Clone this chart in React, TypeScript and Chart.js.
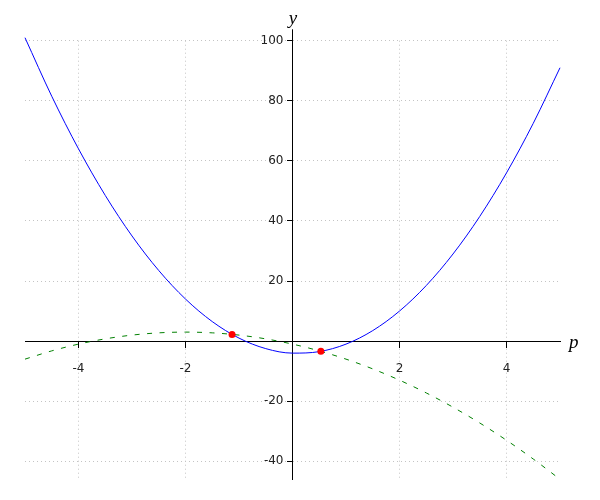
import React, { useEffect, useRef } from "react";
import { Chart, registerables } from "chart.js";

Chart.register(...registerables);

const xValues = [-5, -4.5, -4, -3.5, -3, -2.5, -2, -1.5, -1, -0.5, 0, 0.5, 1, 1.5, 2, 2.5, 3, 3.5, 4, 4.5, 5];
const blueValues = [101, 81.5, 64, 48.5, 35, 23.5, 14, 6.5, 1, -2.5, -4, -3.5, -1, 3.5, 10, 18.5, 29, 41.5, 56, 72.5, 91];
const greenValues = [-6, -3.25, -1, 0.75, 2, 2.75, 3, 2.75, 2, 0.75, -1, -3.25, -6, -9.25, -13, -17.25, -22, -27.25, -33, -39.25, -46];
const redX = [-1.13, 0.53];
const redY = [2.24, -3.4];
const xTicks = [-4, -2, 2, 4];
const yTicks = [-40, -20, 20, 40, 60, 80, 100];

const shiftLabelsPlugin = {
  id: "shiftLabels",
  beforeDraw(chart: any) {
    const ys = chart.scales.y;
    const items = ys.getLabelItems();
    items.forEach((it: any) => {
      if (!it._shifted) {
        it.options.translation[0] -= 9;
        it._shifted = true;
      }
    });
  },
};

const titlePlugin = {
  id: "axisTitles",
  afterDraw(chart: any) {
    const ctx = chart.ctx;
    const xs = chart.scales.x;
    const ys = chart.scales.y;
    const x0 = Math.round(xs.getPixelForValue(0) - 0.5) + 0.5;
    const y0 = ys.getPixelForValue(0);
    const top100 = ys.getPixelForValue(100);
    const topAxis = ys.getPixelForValue(103.8);
    ctx.save();
    ctx.strokeStyle = "#000";
    ctx.lineWidth = 1;
    ctx.beginPath();
    ctx.moveTo(x0, top100 + 1);
    ctx.lineTo(x0, topAxis);
    ctx.stroke();
    ctx.fillStyle = "#000";
    ctx.font = 'italic 19px "Liberation Serif"';
    ctx.textAlign = "center";
    ctx.textBaseline = "alphabetic";
    ctx.fillText("y", x0 + 0.5, 24);
    ctx.textAlign = "left";
    ctx.fillText("p", xs.getPixelForValue(5) + 9, y0 + 7);
    ctx.restore();
  },
};

export default function App() {
  const ref = useRef<HTMLCanvasElement>(null);
  useEffect(() => {
    document.body.style.margin = "0";
    const canvas = ref.current!;
    const tickFont = { family: '"DejaVu Sans"', size: 12 };
    const chart = new Chart(canvas, {
      type: "scatter",
      data: {
        datasets: [
          {
            data: xValues.map((x, i) => ({ x, y: blueValues[i] })),
            showLine: true,
            borderColor: "#0000ff",
            borderWidth: 1,
            pointRadius: 0,
            cubicInterpolationMode: "monotone",
            clip: false,
            order: 2,
          } as any,
          {
            data: xValues.map((x, i) => ({ x, y: greenValues[i] })),
            showLine: true,
            borderColor: "#008000",
            borderWidth: 1,
            borderDash: [5, 7.5],
            pointRadius: 0,
            cubicInterpolationMode: "monotone",
            clip: false,
            order: 3,
          } as any,
          {
            data: redX.map((x, i) => ({ x, y: redY[i] })),
            showLine: false,
            backgroundColor: "#ff0000",
            borderWidth: 0,
            pointRadius: 3.5,
            clip: false,
            order: 1,
          } as any,
        ],
      },
      options: {
        responsive: false,
        animation: false,
        events: [],
        layout: { padding: { left: 25, right: 40, top: 40.7, bottom: 20.7 } },
        plugins: { legend: { display: false }, tooltip: { enabled: false } },
        scales: {
          x: {
            type: "linear",
            min: -5,
            max: 5,
            position: { y: 0 } as any,
            afterFit: (s: any) => { s.height = 0; },
            afterBuildTicks: (s: any) => { s.ticks = xTicks.map((v) => ({ value: v })); },
            ticks: {
              font: tickFont,
              color: "#222",
              maxRotation: 0,
              padding: 15,
              callback: (v: any) => String(v),
            },
            grid: {
              color: "#c4c4c4",
              lineWidth: 1,
              tickLength: 6,
              tickColor: "#000",
              tickWidth: 1,
              tickBorderDash: [],
            } as any,
            border: { display: true, color: "#000", width: 1, dash: [1, 3] },
          },
          y: {
            type: "linear",
            min: -46,
            max: 100,
            position: { x: 0 } as any,
            afterFit: (s: any) => { s.width = 0; },
            afterBuildTicks: (s: any) => { s.ticks = yTicks.map((v) => ({ value: v })); },
            ticks: {
              font: tickFont,
              color: "#222",
              padding: 3,
              callback: (v: any) => String(v),
            },
            grid: {
              color: "#c4c4c4",
              lineWidth: 1,
              tickLength: 5,
              tickColor: "#000",
              tickWidth: 1,
              tickBorderDash: [],
            } as any,
            border: { display: true, color: "#000", width: 1, dash: [1, 3] },
          },
        },
      },
      plugins: [shiftLabelsPlugin, titlePlugin],
    });
    return () => chart.destroy();
  }, []);
  return <canvas ref={ref} width={600} height={500} style={{ display: "block" }} />;
}
